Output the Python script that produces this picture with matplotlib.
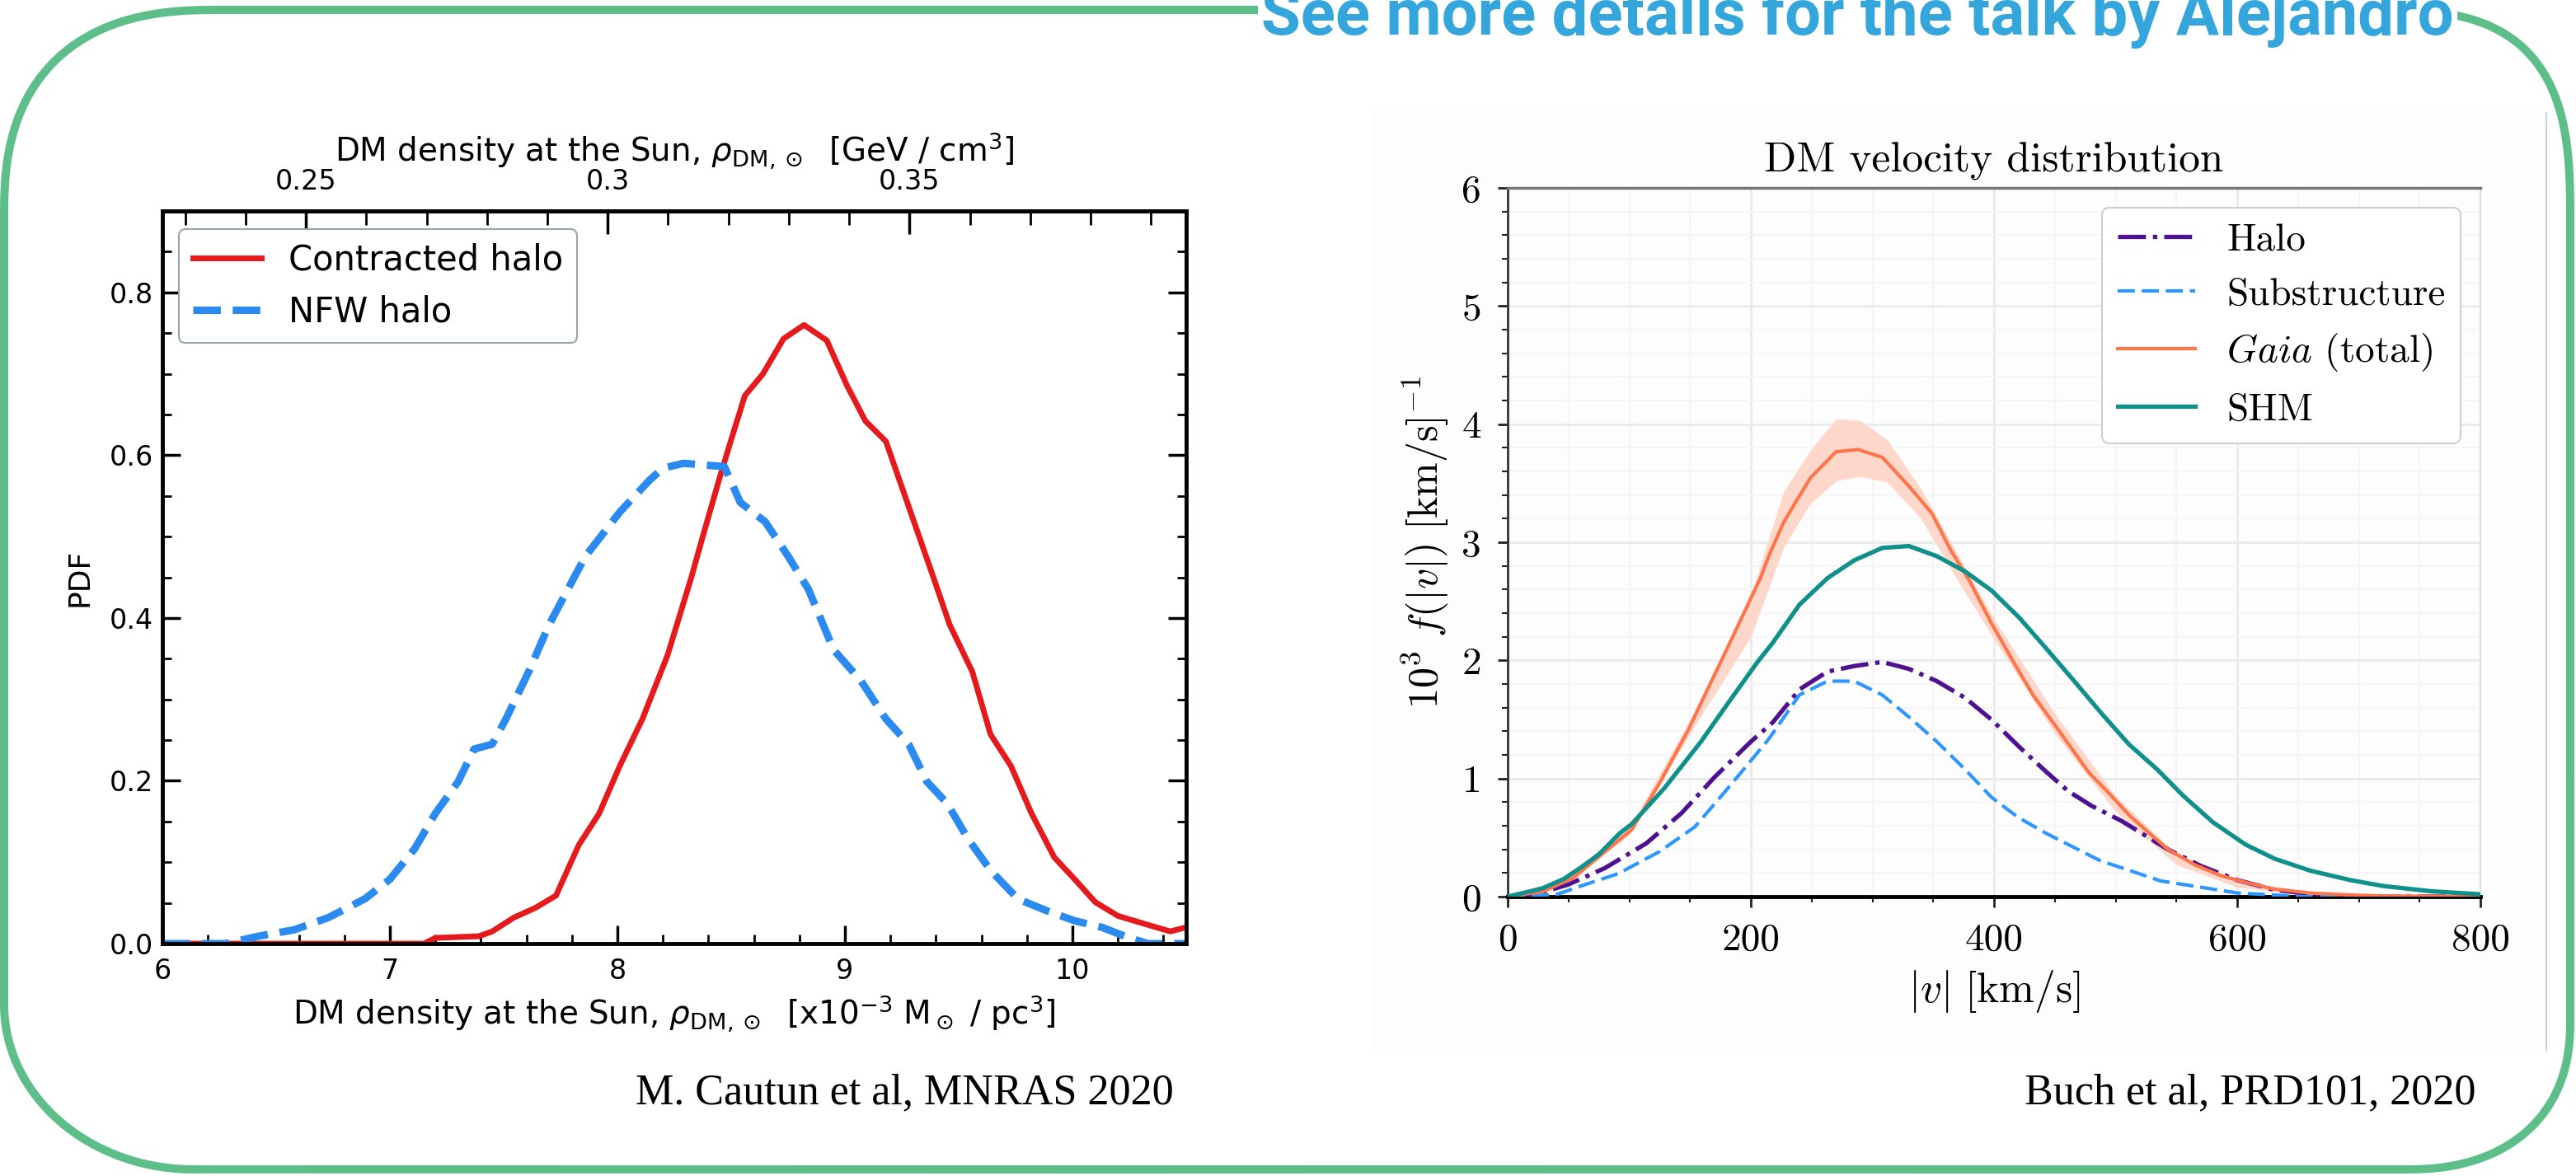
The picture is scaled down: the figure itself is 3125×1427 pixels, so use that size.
import numpy as np
import matplotlib
matplotlib.use('Agg')
import matplotlib.pyplot as plt
from matplotlib.ticker import MultipleLocator
from matplotlib.font_manager import FontProperties

W, H = 3125, 1427

# left panel: local DM density PDFs (Cautun et al 2020)
contracted_x = [6.0, 7.15, 7.2, 7.39, 7.45, 7.545, 7.64, 7.73, 7.83, 7.92, 8.01, 8.11, 8.22,
                8.325, 8.37, 8.45, 8.50, 8.56, 8.64, 8.73, 8.82, 8.92, 9.01, 9.09, 9.18, 9.26,
                9.39, 9.46, 9.56, 9.64, 9.73, 9.82, 9.92, 10.01, 10.10, 10.20, 10.32, 10.43, 10.50]
contracted_y = [0.0, 0.0, 0.007, 0.009, 0.015, 0.032, 0.044, 0.059, 0.121, 0.160, 0.218, 0.276, 0.354,
                0.450, 0.495, 0.573, 0.619, 0.673, 0.700, 0.743, 0.760, 0.741, 0.685, 0.642, 0.617, 0.553,
                0.449, 0.392, 0.334, 0.257, 0.218, 0.160, 0.106, 0.079, 0.051, 0.034, 0.024, 0.015, 0.020]
nfw_x = [6.0, 6.28, 6.42, 6.58, 6.73, 6.89, 7.00, 7.11, 7.20, 7.30, 7.37, 7.45, 7.51, 7.61, 7.70,
         7.81, 7.86, 8.01, 8.14, 8.20, 8.29, 8.47, 8.54, 8.65, 8.75, 8.84, 8.95, 9.07, 9.18, 9.28,
         9.36, 9.45, 9.54, 9.64, 9.76, 9.89, 10.01, 10.13, 10.23, 10.33, 10.50]
nfw_y = [0.0, 0.0, 0.009, 0.017, 0.032, 0.055, 0.079, 0.117, 0.160, 0.199, 0.239, 0.245, 0.276, 0.334, 0.392,
         0.450, 0.476, 0.530, 0.569, 0.584, 0.590, 0.586, 0.542, 0.518, 0.476, 0.435, 0.361, 0.323, 0.276, 0.245,
         0.199, 0.172, 0.129, 0.090, 0.055, 0.040, 0.028, 0.020, 0.009, 0.0, 0.0]
gev_ticks = [0.25, 0.3, 0.35]
gev_per_unit = 0.0377   # 1e-3 Msun/pc^3 in GeV/cm^3

# right panel: DM speed distribution (Buch et al 2020)
halo_v = [0, 23, 50, 80, 114, 143, 170, 200, 218, 240, 263, 285, 308, 330, 353, 376, 398, 421,
          443, 461, 480, 505, 543, 570, 600, 630, 660, 700, 800]
halo_f = [0, 0.02, 0.103, 0.242, 0.451, 0.707, 1.01, 1.312, 1.475, 1.754, 1.905, 1.952, 1.987, 1.928,
          1.824, 1.684, 1.498, 1.265, 1.056, 0.893, 0.77, 0.64, 0.40, 0.26, 0.14, 0.06, 0.02, 0.0, 0.0]
sub_v = [0, 41, 57, 91, 125, 154, 181, 213, 218, 240, 263, 285, 308, 330, 353, 376, 398, 420, 443,
         487, 537, 600, 655, 800]
sub_f = [0, 0.02, 0.079, 0.195, 0.382, 0.591, 0.916, 1.312, 1.382, 1.708, 1.824, 1.824, 1.708, 1.521,
         1.312, 1.079, 0.84, 0.67, 0.535, 0.306, 0.133, 0.031, 0.0, 0.0]
gaia_v = [0, 29, 54, 80, 102, 125, 148, 180, 208, 215, 227, 238, 249, 270, 288, 308, 330, 349, 364,
          380, 398, 416, 432, 455, 478, 495, 512, 543, 565, 586, 607, 630, 660, 693, 720, 800]
gaia_f = [0, 0.043, 0.159, 0.38, 0.567, 0.963, 1.40, 2.09, 2.70, 2.89, 3.17, 3.359, 3.545, 3.766,
          3.785, 3.720, 3.475, 3.243, 2.940, 2.67, 2.312, 1.987, 1.708, 1.382, 1.05, 0.870, 0.68, 0.40,
          0.27, 0.18, 0.12, 0.065, 0.03, 0.014, 0.005, 0.0]
band_v = [0, 50, 100, 150, 200, 227, 249, 270, 290, 312, 340, 370, 400, 450, 500, 550, 600, 650, 700]
band_hi = [0, 0.17, 0.58, 1.50, 2.55, 3.43, 3.78, 4.045, 4.03, 3.87, 3.45, 2.90, 2.35, 1.55, 0.85,
           0.36, 0.13, 0.04, 0.01]
band_lo = [0, 0.13, 0.52, 1.38, 2.20, 2.96, 3.33, 3.52, 3.557, 3.51, 3.20, 2.68, 2.18, 1.38, 0.72,
           0.27, 0.08, 0.02, 0.0]
shm_v = [0, 23, 29, 46, 60, 75, 92, 102, 129, 159, 167, 180, 205, 218, 240, 263, 285, 308, 330, 353,
         376, 398, 421, 443, 466, 489, 511, 534, 556, 580, 607, 631, 660, 693, 720, 760, 800]
shm_f = [0, 0.056, 0.072, 0.149, 0.245, 0.358, 0.535, 0.614, 0.92, 1.312, 1.43, 1.62, 1.98, 2.149,
         2.472, 2.696, 2.847, 2.952, 2.968, 2.882, 2.754, 2.591, 2.359, 2.100, 1.824, 1.544, 1.289,
         1.079, 0.85, 0.63, 0.44, 0.32, 0.22, 0.14, 0.09, 0.045, 0.02]

fig = plt.figure(figsize=(W / 100, H / 100), dpi=100)

# overlay in pixel coords for the slide frame and texts
ax0 = fig.add_axes([0, 0, 1, 1])
ax0.set_xlim(0, W)
ax0.set_ylim(H, 0)
ax0.axis('off')


def corner(cx, cy, rx, ry, t0, t1, n):
    t = np.linspace(t0, t1, 60)
    c, s = np.cos(t), np.sin(t)
    return (cx + rx * np.sign(c) * np.abs(c) ** (2 / n),
            cy + ry * np.sign(s) * np.abs(s) ** (2 / n))


L, T, R, B = 5, 12, 3118, 1419
parts = [corner(L + 260, T + 250, 260, 250, np.pi, 1.5 * np.pi, 2.5),
         corner(R - 240, T + 260, 240, 260, 1.5 * np.pi, 2 * np.pi, 3),
         corner(R - 200, B - 180, 200, 180, 0, 0.5 * np.pi, 2.3),
         corner(L + 230, B - 200, 230, 200, 0.5 * np.pi, np.pi, 2)]
bx = np.concatenate([p[0] for p in parts] + [parts[0][0][:1]])
by = np.concatenate([p[1] for p in parts] + [parts[0][1][:1]])
ax0.plot(bx, by, color='#5dbe89', lw=7.2, solid_capstyle='round', zorder=1)

# faint panel behind the right figure
ax0.add_patch(plt.Rectangle((1664, 135), 3088 - 1664, 1274 - 135, fc='#fdfdfd', ec='none', zorder=0))
ax0.plot([3089, 3089], [137, 1275], color='#c4c4c4', lw=1.2, zorder=1)

title = ax0.text(1530, 42, 'See more details for the talk by Alejandro', ha='left', va='baseline',
                 fontsize=40, fontweight='bold', family='Roboto', color='#35a6dc', zorder=3,
                 bbox=dict(boxstyle='square,pad=0.05', fc='white', ec='none'))
fig.canvas.draw()
wt = title.get_window_extent().width
title.set_fontsize(40 * 1445 / wt)

ax0.text(771, 1339, 'M. Cautun et al, MNRAS 2020', ha='left', va='baseline',
         fontsize=37.5, family='Liberation Serif')
ax0.text(3003, 1339, 'Buch et al, PRD101, 2020', ha='right', va='baseline',
         fontsize=37.5, family='Liberation Serif')

# ---- left panel ----
ax1 = fig.add_axes([197 / W, (H - 1145) / H, 1242 / W, 889 / H])
ax1.plot(contracted_x, contracted_y, color='#e41a1c', lw=5, label='Contracted halo')
ax1.plot(nfw_x, nfw_y, color='#2b8af0', lw=6.5, ls='--', label='NFW halo')
ax1.set_xlim(6, 10.5)
ax1.set_ylim(0, 0.9)
ax1.set_xticks([6, 7, 8, 9, 10])
ax1.set_yticks([0, 0.2, 0.4, 0.6, 0.8])
ax1.xaxis.set_minor_locator(MultipleLocator(0.2))
ax1.yaxis.set_minor_locator(MultipleLocator(0.05))
ax1.tick_params(which='both', direction='in', right=True, top=False, labelsize=24)
ax1.tick_params(which='major', length=16, width=2.5)
ax1.tick_params(which='minor', length=8, width=2)
ax1.tick_params(axis='x', pad=12)
ax1.tick_params(axis='y', pad=8)
for sp in ax1.spines.values():
    sp.set_linewidth(3.5)
ax1.set_xlabel(r'DM density at the Sun, $\rho_{\mathrm{DM,}\odot}$  [x10$^{-3}$ M$_\odot$ / pc$^3$]',
               fontsize=28, labelpad=8)
ax1.set_ylabel('PDF', fontsize=26, labelpad=14)
leg1 = ax1.legend(loc='upper left', bbox_to_anchor=(0.016, 0.975), borderaxespad=0, fontsize=30,
                  edgecolor='#9aa5a5', framealpha=1)
leg1.get_frame().set_linewidth(1.5)

secax = ax1.secondary_xaxis('top', functions=(lambda x: x * gev_per_unit, lambda g: g / gev_per_unit))
secax.set_xticks(gev_ticks, labels=['0.25', '0.3', '0.35'])
secax.xaxis.set_minor_locator(MultipleLocator(0.01))
secax.tick_params(which='both', direction='in', labelsize=24, pad=14)
secax.tick_params(which='major', length=20, width=2.5)
secax.tick_params(which='minor', length=12, width=2)
secax.spines['top'].set_linewidth(3.5)
secax.set_xlabel(r'DM density at the Sun, $\rho_{\mathrm{DM,}\odot}$  [GeV / cm$^3$]', fontsize=28, labelpad=6)

# ---- right panel ----
ax2 = fig.add_axes([1829 / W, (H - 1088) / H, 1180 / W, 860 / H])
ax2.set_facecolor('none')
ax2.fill_between(band_v, band_lo, band_hi, color='#fdd8ca', lw=0, zorder=2)
ax2.plot(halo_v, halo_f, color='#4e1190', lw=3.8, ls='-.', label='Halo', zorder=3)
ax2.plot(sub_v, sub_f, color='#2e96ff', lw=3, dashes=(5, 2), label='Substructure', zorder=3)
ax2.plot(gaia_v, gaia_f, color='#ff7448', lw=3, label=r'$Gaia$ (total)', zorder=3)
ax2.plot(shm_v, shm_f, color='#10908a', lw=3.8, label='SHM', zorder=3)
ax2.set_xlim(0, 800)
ax2.set_ylim(0, 6)
ax2.set_xticks([0, 200, 400, 600, 800])
ax2.set_yticks([0, 1, 2, 3, 4, 5, 6])
ax2.xaxis.set_minor_locator(MultipleLocator(50))
ax2.yaxis.set_minor_locator(MultipleLocator(0.2))
ax2.set_axisbelow(True)
ax2.grid(which='major', color='#ebebeb', lw=2)
ax2.grid(which='minor', color='#f5f5f5', lw=1.5)
ax2.tick_params(which='both', direction='out', labelsize=34, labelfontfamily='cmr10', pad=14, color='#222222')
ax2.tick_params(which='major', length=9, width=2)
ax2.tick_params(which='minor', length=5, width=1.5)
ax2.spines['left'].set_color('#333333')
ax2.spines['left'].set_linewidth(2)
ax2.spines['bottom'].set_color('black')
ax2.spines['bottom'].set_linewidth(3.5)
ax2.spines['top'].set_color('#777777')
ax2.spines['top'].set_linewidth(2.5)
ax2.spines['right'].set_color('#dddddd')
ax2.spines['right'].set_linewidth(1.5)
ax2.set_title('DM velocity distribution', fontsize=37, family='cmr10', pad=14)
ax2.set_xlabel(r'$|v|\ [\mathrm{km/s}]$', fontsize=37, math_fontfamily='cm', labelpad=10)
ax2.set_ylabel(r'$10^3\ f(|v|)\ [\mathrm{km/s}]^{-1}$', fontsize=36, math_fontfamily='cm', labelpad=10)
leg2 = ax2.legend(loc='upper right', bbox_to_anchor=(0.98, 0.972), borderaxespad=0,
                  prop=FontProperties(family='cmr10', size=34, math_fontfamily='cm'),
                  edgecolor='#cfcfcf', framealpha=1)
leg2.get_frame().set_linewidth(1.5)

fig.savefig('out.png', dpi=100)
